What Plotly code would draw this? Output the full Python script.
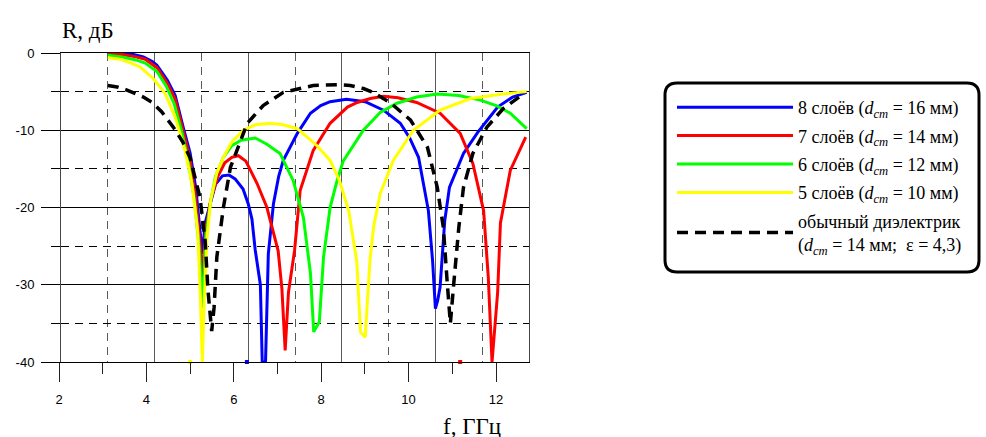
import plotly.graph_objects as go

# ---------------- data ----------------
blue_x = [3.0, 3.3, 3.55, 3.76, 3.95, 4.05, 4.27, 4.44, 4.61, 4.76, 4.88, 4.96, 5.02, 5.08, 5.19, 5.3, 5.45, 5.59, 5.72, 5.89, 6.0, 6.08, 6.15, 6.26, 6.3, 6.37, 6.43, 6.54, 6.65, 6.75, 7.05, 7.33, 7.55, 7.75, 8.1, 8.5, 8.89, 9.25, 9.45, 9.64, 9.85, 9.94, 10.0, 10.05, 10.1, 10.2, 10.3, 10.6, 10.9, 11.33, 11.65, 11.95]
blue_y = [0.0, 0.0, -0.2, -0.5, -1.1, -1.6, -3.5, -5.5, -9.6, -13.0, -17.5, -22.5, -26.0, -22.0, -19.5, -17.0, -15.9, -15.8, -16.3, -17.6, -19.5, -21.5, -25.5, -30.0, -40.0, -40.0, -26.0, -19.5, -16.0, -13.9, -10.4, -7.8, -6.8, -6.3, -6.0, -6.3, -7.4, -9.1, -11.0, -13.5, -20.4, -26.9, -33.1, -32.0, -30.3, -21.7, -17.4, -13.0, -10.3, -7.0, -5.7, -5.1]

red_x = [3.0, 3.3, 3.6, 3.8, 4.05, 4.27, 4.44, 4.6, 4.75, 4.87, 4.96, 5.02, 5.09, 5.2, 5.35, 5.5, 5.65, 5.79, 5.95, 6.19, 6.4, 6.64, 6.72, 6.79, 6.86, 6.99, 7.11, 7.39, 7.75, 8.12, 8.33, 8.61, 8.89, 9.2, 9.6, 10.1, 10.53, 10.8, 11.03, 11.13, 11.21, 11.33, 11.39, 11.6, 11.93]
red_y = [-0.1, -0.2, -0.5, -0.8, -1.9, -3.9, -6.0, -9.8, -13.5, -18.5, -24.0, -29.0, -23.0, -19.0, -16.0, -14.2, -13.5, -13.3, -14.0, -16.9, -20.0, -25.6, -30.5, -38.5, -31.0, -25.6, -17.8, -12.6, -9.1, -7.0, -6.4, -5.9, -5.6, -5.8, -6.4, -7.8, -10.4, -14.3, -20.4, -29.0, -40.0, -31.0, -22.0, -15.2, -10.9]

green_x = [3.0, 3.3, 3.6, 3.8, 4.05, 4.25, 4.42, 4.58, 4.72, 4.85, 4.95, 5.02, 5.09, 5.19, 5.3, 5.47, 5.65, 5.85, 6.15, 6.4, 6.68, 6.96, 7.18, 7.33, 7.4, 7.52, 7.61, 7.75, 7.9, 8.03, 8.46, 8.82, 9.18, 9.6, 10.04, 10.5, 10.96, 11.3, 11.6, 11.95]
green_y = [-0.3, -0.5, -0.9, -1.3, -2.4, -4.3, -6.6, -10.2, -14.0, -19.0, -25.0, -33.0, -24.0, -19.5, -16.0, -13.5, -12.0, -11.3, -11.0, -11.8, -13.0, -16.5, -21.3, -28.5, -36.1, -34.8, -26.4, -20.0, -16.5, -14.0, -10.0, -7.7, -6.5, -5.7, -5.3, -5.5, -6.1, -6.8, -7.8, -9.8]

yellow_x = [3.0, 3.26, 3.5, 3.69, 3.97, 4.22, 4.44, 4.65, 4.8, 4.92, 4.98, 5.02, 5.06, 5.12, 5.2, 5.33, 5.47, 5.65, 5.9, 6.15, 6.47, 6.75, 7.05, 7.47, 7.75, 7.95, 8.15, 8.32, 8.4, 8.5, 8.6, 8.68, 8.82, 9.1, 9.53, 10.1, 10.75, 11.45, 11.95]
yellow_y = [-0.6, -0.8, -1.3, -1.8, -3.3, -5.2, -8.3, -12.6, -17.0, -23.0, -32.0, -40.0, -32.0, -24.0, -19.0, -15.5, -13.5, -11.5, -10.0, -9.3, -9.1, -9.3, -9.8, -12.0, -13.9, -16.5, -20.5, -27.0, -36.1, -36.8, -27.0, -22.5, -18.2, -13.9, -10.0, -7.4, -5.9, -5.3, -5.0]

plain_x = [3.0, 3.2, 3.41, 3.6, 3.76, 3.95, 4.15, 4.4, 4.6, 4.76, 4.97, 5.08, 5.14, 5.22, 5.27, 5.33, 5.47, 5.62, 5.83, 5.98, 6.32, 6.75, 7.39, 7.9, 8.18, 8.46, 8.67, 9.03, 9.47, 9.83, 10.04, 10.17, 10.25, 10.32, 10.39, 10.5, 10.6, 10.8, 11.1, 11.45, 11.88]
plain_y = [-4.2, -4.4, -4.8, -5.3, -5.7, -6.4, -7.6, -9.6, -11.5, -13.6, -18.7, -24.3, -30.7, -36.0, -33.0, -26.4, -20.0, -14.8, -11.3, -9.1, -6.8, -5.1, -4.2, -4.1, -4.2, -4.6, -5.1, -6.4, -8.7, -12.2, -17.4, -22.6, -29.5, -35.0, -30.0, -22.6, -17.4, -13.0, -9.6, -7.2, -5.3]

# points where curves touch the lower limit, as seen on the frequency scale
touch_x = [5.0, 6.3, 11.18]
touch_y = [-40, -40, -40]
touch_colors = ["#FFFF00", "#0000FF", "#FF0000"]

names = [
    "8 слоёв (<i>d</i><sub><i>cm</i></sub> = 16 мм)",
    "7 слоёв (<i>d</i><sub><i>cm</i></sub> = 14 мм)",
    "6 слоёв (<i>d</i><sub><i>cm</i></sub> = 12 мм)",
    "5 слоёв (<i>d</i><sub><i>cm</i></sub> = 10 мм)",
    "обычный диэлектрик<br>(<i>d</i><sub><i>cm</i></sub> = 14 мм;  ε = 4,3)",
]

x_tickvals = [2, 4, 6, 8, 10, 12]
x_ticktext = ["2", "4", "6", "8", "10", "12"]
y_tickvals = [0, -10, -20, -30, -40]
y_ticktext = ["0", "-10", "-20", "-30", "-40"]

# ---------------- figure ----------------
W, H = 986, 437
ML, MR, MT, MB = 59, 457, 53, 75
PW = W - ML - MR
PH = H - MT - MB
SERIF = "Liberation Serif, Times New Roman, serif"
SANS = "Liberation Sans, Arial, sans-serif"

def px_x(p):
    return (p - ML) / PW

def px_y(p):
    return (H - MB - p) / PH

fig = go.Figure()
series = [
    (blue_x, blue_y, "#0000FF", "solid"),
    (red_x, red_y, "#FF0000", "solid"),
    (green_x, green_y, "#00FF00", "solid"),
    (yellow_x, yellow_y, "#FFFF00", "solid"),
    (plain_x, plain_y, "#000000", "11px,7px"),
]
for i, (xs, ys, col, dash) in enumerate(series):
    fig.add_trace(go.Scatter(
        x=xs, y=ys, mode="lines", name=names[i], legendgroup="g%d" % i,
        line=dict(color=col, width=3.5 if i == 4 else 3, dash=dash),
    ))

fig.add_trace(go.Scatter(
    x=touch_x, y=touch_y, mode="markers", xaxis="x2", yaxis="y2",
    marker=dict(symbol="square", size=4, color=touch_colors, line=dict(width=0)),
    showlegend=False, cliponaxis=False, hoverinfo="skip",
))

fig.update_layout(
    width=W, height=H,
    margin=dict(l=ML, r=MR, t=MT, b=MB),
    paper_bgcolor="white", plot_bgcolor="rgba(0,0,0,0)",
    showlegend=True,
    xaxis=dict(
        domain=[2 / PW, 1], range=[2, 12],
        showticklabels=False, ticks="",
        showgrid=True, gridcolor="#5a5a5a", gridwidth=1,
        tickvals=x_tickvals,
        minor=dict(dtick=1, showgrid=True, gridcolor="#5a5a5a", griddash="8px,6px", gridwidth=1),
        zeroline=False, showline=True, mirror=True, linecolor="#000000", linewidth=1,
    ),
    yaxis=dict(
        domain=[0, 1], range=[-40, 0], anchor="x",
        tickvals=y_tickvals, ticktext=y_ticktext,
        ticks="outside", ticklen=19, tickcolor="#000", tickwidth=1,
        showgrid=True, gridcolor="#000000", gridwidth=1,
        minor=dict(dtick=5, ticks="outside", ticklen=9, tickcolor="#000",
                   showgrid=True, gridcolor="#000000", griddash="8px,6px", gridwidth=1),
        zeroline=False, showline=True, mirror=True, linecolor="#444444", linewidth=1,
        tickfont=dict(family=SANS, size=13, color="#000"),
        ticklabelstandoff=4,
    ),
    xaxis2=dict(
        domain=[0, (496 - ML) / PW], range=[2, 12], anchor="y2",
        tickvals=x_tickvals, ticktext=x_ticktext,
        ticks="outside", ticklen=19, tickcolor="#222", tickwidth=1,
        minor=dict(dtick=1, ticks="outside", ticklen=11, tickcolor="#222", tickwidth=1),
        showgrid=False, zeroline=False, showline=True, linecolor="#000000", linewidth=1,
        tickfont=dict(family=SANS, size=13, color="#000"),
        ticklabelstandoff=6,
    ),
    yaxis2=dict(
        domain=[0, 1], range=[-40, 0], anchor="x2",
        showgrid=False, zeroline=False, showline=False, showticklabels=False, ticks="",
    ),
    legend=dict(
        x=px_x(672), y=px_y(89), xanchor="left", yanchor="top",
        bgcolor="rgba(0,0,0,0)", borderwidth=0,
        font=dict(family=SERIF, size=18, color="#000"),
        tracegroupgap=2, itemwidth=116,
    ),
    annotations=[
        dict(text="R, дБ", x=px_x(88), y=px_y(30), xref="paper", yref="paper",
             xanchor="center", yanchor="middle",
             showarrow=False, font=dict(family=SERIF, size=23, color="#000")),
        dict(text="f, ГГц", x=px_x(472), y=px_y(426), xref="paper", yref="paper",
             xanchor="center", yanchor="middle",
             showarrow=False, font=dict(family=SERIF, size=23, color="#000")),
    ],
)

# rounded legend frame
x0, x1 = px_x(665), px_x(979)
y0, y1 = px_y(272), px_y(83)
rx, ry = 12 / PW, 12 / PH
path = (f"M {x0+rx},{y1} L {x1-rx},{y1} Q {x1},{y1} {x1},{y1-ry} L {x1},{y0+ry} "
        f"Q {x1},{y0} {x1-rx},{y0} L {x0+rx},{y0} Q {x0},{y0} {x0},{y0+ry} "
        f"L {x0},{y1-ry} Q {x0},{y1} {x0+rx},{y1} Z")
fig.add_shape(type="path", path=path, xref="paper", yref="paper",
              line=dict(color="#000", width=3), fillcolor="rgba(0,0,0,0)", layer="below")

fig.write_html("out.html")
